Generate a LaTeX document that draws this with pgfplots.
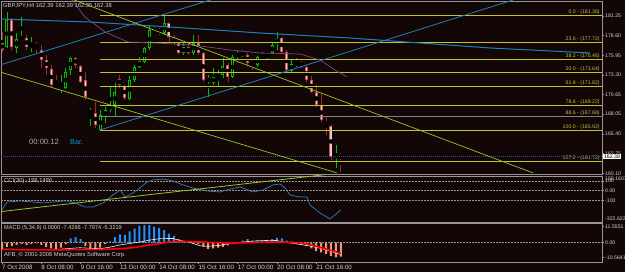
\documentclass[border=0pt]{standalone}
\usepackage{fontspec}
\setmainfont{Liberation Sans}
\usepackage{pgfplots}
\usepackage{pgfplotstable}
\pgfplotsset{compat=1.18}
\definecolor{bg}{RGB}{18,6,6}
\definecolor{frame}{RGB}{150,150,150}
\definecolor{txt}{RGB}{210,210,210}
\definecolor{fib}{RGB}{196,196,40}
\definecolor{fibtxt}{RGB}{190,190,70}
\definecolor{teal1}{RGB}{30,130,185}
\definecolor{ygreen}{RGB}{150,200,40}
\definecolor{purp}{RGB}{130,70,130}
\definecolor{bullc}{RGB}{0,190,0}
\definecolor{bearo}{RGB}{190,80,80}
\definecolor{bearf}{RGB}{240,200,200}
\definecolor{bearw}{RGB}{160,40,40}
\definecolor{hblue}{RGB}{30,144,255}
\definecolor{hsal}{RGB}{240,150,120}
\definecolor{ccic}{RGB}{50,130,190}
\definecolor{bidc}{RGB}{40,80,170}
\definecolor{bartxt}{RGB}{0,160,200}

\pgfplotstableread{
i o h l c
1 177.06 181.76 176.93 180.69
3 176.93 178.94 176.26 178.14
4 178.14 181.09 178.00 178.41
6 177.06 178.41 176.39 177.33
12 171.42 173.30 170.89 171.83
13 171.56 174.24 171.42 173.71
14 173.97 175.72 173.30 175.59
18 168.20 168.87 166.46 168.34
20 165.92 168.60 165.92 167.93
21 167.67 169.01 166.86 168.60
22 168.60 171.83 168.34 169.27
23 169.27 172.23 167.67 171.02
26 170.08 173.17 169.95 172.63
27 172.63 174.65 172.36 174.38
28 174.38 175.72 174.24 175.18
29 175.05 177.06 174.92 176.93
30 176.93 180.02 176.66 179.35
33 178.94 181.36 178.67 180.29
37 176.26 177.73 175.99 177.06
39 176.26 178.67 175.99 177.60
42 172.50 173.30 170.35 172.77
43 172.23 174.24 171.96 173.03
44 172.90 173.97 171.69 173.44
45 173.30 175.59 172.90 174.51
47 173.03 175.99 172.90 175.72
48 175.72 176.66 175.32 176.26
49 176.12 176.66 175.72 176.39
52 174.65 175.86 174.38 175.72
53 175.59 176.39 175.32 175.72
54 175.99 176.39 175.32 176.26
55 176.26 177.60 176.12 177.33
56 177.47 179.08 176.66 178.14
59 173.84 175.32 173.71 174.78
60 174.65 175.59 174.38 175.05
68 162.43 163.90 160.82 162.56
}\bulltab

\pgfplotstableread{
i o h l c
0 177.60 179.08 176.39 176.66
2 180.69 180.96 176.66 177.06
5 178.27 178.67 176.66 177.06
7 177.33 177.73 176.26 177.06
8 176.66 177.33 174.24 175.32
9 175.32 175.99 173.30 174.24
10 174.11 174.65 171.56 171.96
11 171.83 173.30 171.29 171.56
15 175.59 175.72 174.24 174.65
16 174.51 174.65 172.23 172.36
17 172.63 173.71 169.95 170.35
19 168.20 169.68 166.19 166.59
24 172.77 173.30 171.56 171.96
25 171.83 171.96 169.95 170.22
31 179.48 179.75 178.94 179.08
32 179.35 179.61 178.67 178.94
34 180.29 180.42 177.60 178.41
35 178.27 178.67 177.33 177.60
36 177.60 177.73 176.12 176.26
38 177.06 177.60 175.99 176.26
40 177.60 178.67 175.99 176.26
41 176.26 176.39 172.36 172.63
46 174.65 174.92 172.36 173.03
50 175.99 176.26 174.65 174.92
51 174.92 175.05 173.97 174.65
57 178.27 178.41 176.26 176.39
58 176.39 176.66 173.71 173.97
61 175.05 175.18 174.24 174.38
62 174.38 174.65 172.36 172.63
63 172.63 173.17 170.89 171.02
64 171.02 171.96 169.01 169.27
65 169.27 170.89 167.00 167.26
66 167.13 167.67 165.25 166.59
67 166.46 166.59 161.89 162.29
69 162.39 162.83 160.28 162.38
}\beartab

\pgfplotstableread{
i v
0 -4.5
1 -3.0
2 -2.5
3 -1.5
4 -1.0
5 -1.5
6 -1.0
7 -0.5
8 -1.5
9 -3.0
10 -4.0
11 -4.5
12 -3.5
13 -1.0
14 3.0
15 4.0
16 2.5
17 -2.5
18 -4.0
19 -5.0
20 -3.5
21 -1.0
22 1.0
23 4.0
24 6.0
25 5.5
26 8.0
27 10.0
28 12.0
29 12.5
30 12.5
31 11.5
32 10.5
33 9.0
34 6.5
35 4.8
36 2.6
37 1.0
38 0.5
39 -0.5
40 -1.0
41 -3.0
42 -4.5
43 -4.0
44 -3.5
45 -3.0
46 -2.0
47 -1.0
48 0.5
49 1.5
50 2.5
51 1.5
52 2.0
53 1.5
54 2.0
55 2.5
56 3.5
57 3.0
58 1.5
59 1.0
60 -1.0
61 -1.5
62 -2.5
63 -4.0
64 -6.0
65 -7.0
66 -8.0
67 -9.5
68 -10.5
69 -10.0
}\histtab

\pgfplotstableread{
x w
0 -4.6
4 -4.8
8 -4.9
12 -4.6
13.2 -4.3
15.9 -3.6
18 -4.0
20 -4.3
22 -3.2
24 -1.6
26 -0.6
28.1 0.5
30 1.8
32.2 2.9
34.8 3.0
36 1.8
38 0.5
40.3 -2.2
42 -2.6
44.4 -1.9
46 -0.8
47.9 0
50 0.8
52 1.3
54.6 1.7
56 1.5
57.2 0.5
60 -0.8
62.7 -2.4
64.8 -4.0
66.8 -5.9
68 -7.4
69 -8.5
}\whitetab

\pgfplotstableread{
x r
0 -4.9
3 -5.0
6 -5.1
9 -5.1
12 -5.2
15 -4.9
18 -5.0
20 -4.9
22 -4.6
24 -4.3
26 -3.8
28 -2.8
30 -1.6
32 -0.7
34 0.6
36 0.9
38 0.8
40 0.6
42 0.3
44 0.0
46 -0.2
48 -0.2
50 0.0
52 0.2
54 0.3
56 0.4
58 0.3
60 0.0
62 -0.8
64 -2.6
66 -4.6
68 -6.5
69 -7.8
}\redtab

\pgfplotstableread{
x v
0 -199
1.02 -117
3.67 -107
6.31 -117
8.35 -127
10.39 -117
12.42 -107
13.44 -107
14.87 -127
16.9 -169
18.53 -169
20.57 -127
22.61 -45
24.03 6
25.05 -66
26.68 -25
28.1 27
29.53 88
30.75 109
32.79 119
34.83 99
36.86 58
38.9 27
41.75 -4
44.4 -14
46.44 16
48.47 37
51.12 -14
53.16 6
55.19 58
56.62 68
57.64 27
58.66 -45
60.69 -66
62.12 -66
62.73 -148
64.77 -230
66.8 -292
69 -199
}\ccitab

\pgfplotsset{
  panel/.style={
    scale only axis, width=601pt, xmin=-0.204, xmax=122.2,
    axis line style={draw=frame, line width=0.8pt},
    ytick pos=right, yticklabel pos=right, tick align=outside,
    major tick length=2pt, tick style={draw=frame, line width=0.5pt},
    yticklabel style={font=\fontsize{5.2}{6}\selectfont, text=txt, inner sep=1pt, anchor=west},
    xtick=\empty, clip mode=individual,
  },
  fibl/.style={fib, line width=0.7pt},
}
\tikzset{fibn/.style={anchor=south east, font=\fontsize{5.2}{6}\selectfont, text=fibtxt, inner sep=0.6pt}}

\begin{document}
\begin{tikzpicture}
\useasboundingbox (0pt,0pt) rectangle (625pt,272pt);
\fill[bg] (0pt,0pt) rectangle (625pt,272pt);

% ---------------- main price panel ----------------
\begin{axis}[panel, at={(1pt,271pt)}, anchor=north west, height=173.5pt,
  ymin=159.94, ymax=183.24,
  ytick={160.10,162.75,165.40,168.05,170.65,173.30,175.95,178.60,181.25},
  yticklabels={160.10,162.75,165.40,168.05,170.65,173.30,175.95,178.60,181.25}]

% candles: wicks
\addplot[only marks, mark=none, error bars/.cd, y dir=both, y explicit, error mark=none,
  error bar style={draw=bullc, line width=0.7pt, solid}]
  table[x=i, y expr={(\thisrow{h}+\thisrow{l})/2}, y error expr={(\thisrow{h}-\thisrow{l})/2}] {\bulltab};
\addplot[only marks, mark=none, error bars/.cd, y dir=both, y explicit, error mark=none,
  error bar style={draw=bearw, line width=0.7pt, solid}]
  table[x=i, y expr={(\thisrow{h}+\thisrow{l})/2}, y error expr={(\thisrow{h}-\thisrow{l})/2}] {\beartab};
% bodies
\addplot[only marks, mark=none, error bars/.cd, y dir=both, y explicit, error mark=none,
  error bar style={draw=bullc, line width=3pt, solid}]
  table[x=i, y expr={(\thisrow{o}+\thisrow{c})/2}, y error expr={max(abs(\thisrow{o}-\thisrow{c})/2,0.07)}] {\bulltab};
\addplot[only marks, mark=none, error bars/.cd, y dir=both, y explicit, error mark=none,
  error bar style={draw=bg, line width=1pt, solid}]
  table[x=i, y expr={(\thisrow{o}+\thisrow{c})/2}, y error expr={max(abs(\thisrow{o}-\thisrow{c})/2-0.134,0)}] {\bulltab};
\addplot[only marks, mark=none, error bars/.cd, y dir=both, y explicit, error mark=none,
  error bar style={draw=bearo, line width=3pt, solid}]
  table[x=i, y expr={(\thisrow{o}+\thisrow{c})/2}, y error expr={max(abs(\thisrow{o}-\thisrow{c})/2,0.07)}] {\beartab};
\addplot[only marks, mark=none, error bars/.cd, y dir=both, y explicit, error mark=none,
  error bar style={draw=bearf, line width=1.2pt, solid}]
  table[x=i, y expr={(\thisrow{o}+\thisrow{c})/2}, y error expr={max(abs(\thisrow{o}-\thisrow{c})/2-0.1,0)}] {\beartab};

% Fibonacci levels
\addplot[fibl] coordinates {(19.96,181.36) (122.2,181.36)};
\addplot[fibl] coordinates {(19.96,177.72) (122.2,177.72)};
\addplot[fibl] coordinates {(19.96,175.46) (122.2,175.46)};
\addplot[fibl] coordinates {(19.96,173.64) (122.2,173.64)};
\addplot[fibl] coordinates {(19.96,171.82) (122.2,171.82)};
\addplot[fibl] coordinates {(19.96,169.22) (122.2,169.22)};
\addplot[frame!85!black, line width=1.1pt] coordinates {(19.96,167.68) (122.2,167.68)};
\addplot[fibl] coordinates {(19.96,165.92) (122.2,165.92)};
\addplot[fibl] coordinates {(19.96,161.72) (122.2,161.72)};
\node[fibn] at (axis cs:121.9,181.36) {0.0 - (181.36)};
\node[fibn] at (axis cs:121.9,177.72) {23.6 - (177.72)};
\node[fibn] at (axis cs:121.9,175.46) {38.2 - (175.46)};
\node[fibn] at (axis cs:121.9,173.64) {50.0 - (173.64)};
\node[fibn] at (axis cs:121.9,171.82) {61.8 - (171.82)};
\node[fibn] at (axis cs:121.9,169.22) {78.6 - (169.22)};
\node[fibn] at (axis cs:121.9,167.68) {88.6 - (167.68)};
\node[fibn] at (axis cs:121.9,165.92) {100.0 - (165.92)};
\node[fibn] at (axis cs:121.9,161.72) {127.2 - (161.72)};

% bid line
\addplot[bidc, line width=0.6pt, dash pattern=on 1pt off 1pt] coordinates {(-0.2,162.38) (122.2,162.38)};

% trend lines
\addplot[teal1, line width=0.8pt] coordinates {(-0.41,174.65) (44.0,183.70)};
\addplot[teal1, line width=0.8pt] coordinates {(19.96,165.92) (104.07,183.37)};
\addplot[teal1, line width=1pt] coordinates {(-0.41,180.82) (17.92,180.42) (34.22,179.75) (52.55,178.94) (70.88,178.27) (85.13,177.60) (99.39,176.93) (119.76,176.26)};
\addplot[purp, line width=0.7pt] coordinates {(14.0,183.6) (16.90,181.09) (20.98,179.08) (25.66,177.73) (31.16,177.60) (38.90,177.33) (46.44,176.66) (52.55,176.26) (60.69,176.12) (64.77,175.32) (67.82,173.97) (70.26,173.04)};
\addplot[ygreen, line width=0.7pt] coordinates {(14.0,183.55) (108.15,160.15)};
\addplot[ygreen, line width=0.7pt] coordinates {(-0.41,173.71) (68.23,160.15)};

\coordinate (pb) at (axis cs:122.2,162.38);
\end{axis}

% ---------------- CCI panel ----------------
\begin{axis}[panel, at={(1pt,96pt)}, anchor=north west, height=46pt,
  ymin=-322.62, ymax=150.16,
  ytick={-100,0,100}, yticklabels={-100,0.00,100}]
\addplot[frame, line width=0.5pt, dash pattern=on 1.5pt off 1.5pt] coordinates {(-0.2,100) (122.2,100)};
\addplot[frame, line width=0.5pt, dash pattern=on 1.5pt off 1.5pt] coordinates {(-0.2,0) (122.2,0)};
\addplot[frame, line width=0.5pt, dash pattern=on 1.5pt off 1.5pt] coordinates {(-0.2,-100) (122.2,-100)};
\addplot[ccic, line width=0.7pt] table[x=x, y=v] {\ccitab};
\addplot[ygreen, line width=0.8pt] coordinates {(-0.41,-216.8) (66.5,168)};
\node[anchor=west, font=\fontsize{5.2}{6}\selectfont, text=txt, inner sep=1pt] at (rel axis cs:1,1) [xshift=2pt, yshift=-3pt] {150.1607};
\node[anchor=west, font=\fontsize{5.2}{6}\selectfont, text=txt, inner sep=1pt] at (rel axis cs:1,0) [xshift=2pt, yshift=3.7pt] {-322.622};
\end{axis}

% ---------------- MACD panel ----------------
\begin{axis}[panel, at={(1pt,49pt)}, anchor=north west, height=39pt,
  ymin=-13.8, ymax=14.07,
  ytick={-10.5641,0,11.5551}, yticklabels={-10.5641,0.00,11.5551},
  xtick={0,8,16,24,32,40,48,56,64},
  xticklabels={7 Oct 2008,8 Oct 08:00,9 Oct 16:00,13 Oct 00:00,14 Oct 08:00,15 Oct 16:00,17 Oct 00:00,20 Oct 08:00,21 Oct 16:00},
  xtick pos=bottom,
  xticklabel style={anchor=north west, font=\fontsize{6.2}{7}\selectfont, text=txt, inner sep=0pt, yshift=-1pt}]
\addplot[frame, line width=0.5pt, dash pattern=on 1.5pt off 1.5pt] coordinates {(-0.2,0) (122.2,0)};
\addplot[ybar, bar width=2pt, bar shift=0pt, fill=hblue, draw=none, restrict y to domain=0:20] table[x=i, y=v] {\histtab};
\addplot[ybar, bar width=2pt, bar shift=0pt, fill=hsal, draw=none, restrict y to domain=-20:0] table[x=i, y=v] {\histtab};
\addplot[white!85!gray, line width=0.6pt] table[x=x, y=w] {\whitetab};
\addplot[red, line width=1.6pt] table[x=x, y=r] {\redtab};
\end{axis}

% ---------------- texts ----------------
\node[anchor=west, font=\fontsize{5.8}{7}\selectfont, text=txt, inner sep=0pt] at (3pt,266.3pt) {GBPJPY,H4 162.39 162.39 162.35 162.38};
\node[anchor=west, font=\fontsize{7.6}{9}\selectfont, text={rgb,255:red,170;green,170;blue,170}, inner sep=0pt] at (29pt,130pt) {00:00.12};
\node[anchor=west, font=\fontsize{7.2}{9}\selectfont, text=bartxt, inner sep=0pt] at (70pt,130pt) {Bar.};
\node[anchor=west, font=\fontsize{5.8}{7}\selectfont, text=txt, inner sep=0pt] at (4pt,91pt) {CCI(30) -198.1480};
\node[anchor=west, font=\fontsize{5.6}{7}\selectfont, text=txt, inner sep=0pt] at (4pt,44.3pt) {MACD (5,34,9) 0.0000 -7.4266 -7.7974 -5.3219};
\node[anchor=west, font=\fontsize{5.8}{7}\selectfont, text=txt, inner sep=0pt] at (4pt,16.7pt) {AFB, © 2001-2008 MetaQuotes Software Corp.};
\node[anchor=west, fill=white, text=black, font=\fontsize{5.2}{6}\selectfont, inner sep=0.8pt] at (pb) [xshift=1pt] {162.38};
\end{tikzpicture}
\end{document}
